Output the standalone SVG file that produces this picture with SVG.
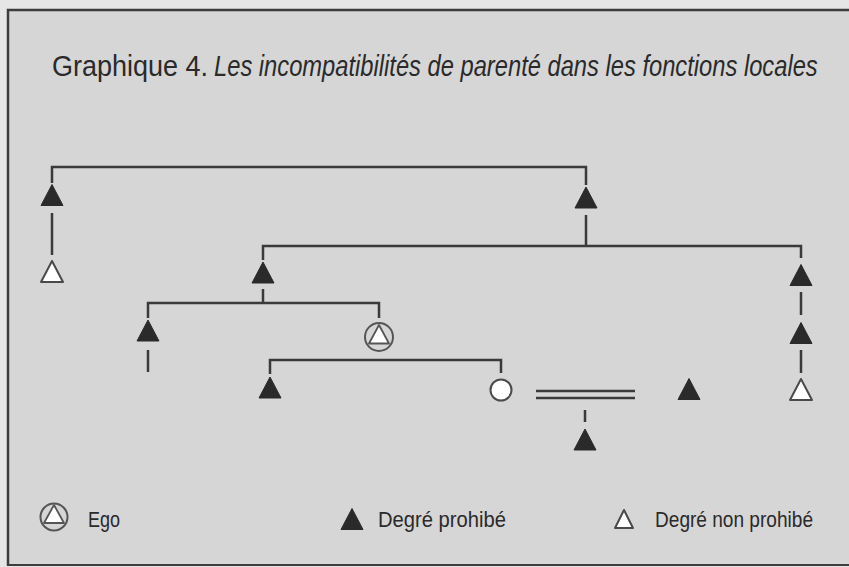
<svg xmlns="http://www.w3.org/2000/svg" width="849" height="567" viewBox="0 0 849 567">
<defs>
<style>
.ln{stroke:#3a3a3a;stroke-width:2.5;fill:none}
.tf{fill:#2a2a2a;stroke:#2a2a2a;stroke-width:1;stroke-linejoin:round}
.tw{fill:#ffffff;stroke:#4a4a4a;stroke-width:2;stroke-linejoin:round}
.eg{fill:none;stroke:#555;stroke-width:2}
.txt{font-family:"Liberation Sans","Arial",sans-serif;fill:#2a2a2a}
</style>
<path id="tri" d="M0,-10.5 L11,10.5 L-11,10.5 Z"/>
</defs>
<rect x="0" y="0" width="849" height="567" fill="#e6e6e6"/>
<rect x="8" y="10" width="841" height="555" fill="#d6d6d6"/>
<path d="M8,566 L8,10 L849,10" stroke="#3c3c3c" stroke-width="2.5" fill="none"/>
<line x1="8" y1="565" x2="849" y2="565" stroke="#3c3c3c" stroke-width="2"/>

<g id="title" class="txt" font-size="30">
<g transform="translate(52,76) scale(0.85,1)">
<text x="0" y="0" textLength="183.5" lengthAdjust="spacingAndGlyphs">Graphique 4.</text>
</g>
<g transform="translate(214,76) scale(0.78,1)">
<text x="0" y="0" font-style="italic" textLength="774" lengthAdjust="spacingAndGlyphs">Les incompatibilités de parenté dans les fonctions locales</text>
</g>
</g>

<g id="connectors" class="ln">
<polyline points="52,183 52,167 586,167 586,185"/>
<line x1="52" y1="213" x2="52" y2="255"/>
<line x1="586" y1="215" x2="586" y2="246"/>
<polyline points="263,260 263,246 801,246 801,258"/>
<line x1="263" y1="289" x2="263" y2="303"/>
<polyline points="148,318 148,303 379,303 379,318"/>
<line x1="148" y1="350" x2="148" y2="372"/>
<line x1="801" y1="292" x2="801" y2="315"/>
<line x1="801" y1="350" x2="801" y2="373"/>
<polyline points="270,374 270,360 501,360 501,373"/>
<line x1="536" y1="391" x2="635" y2="391"/>
<line x1="536" y1="398" x2="635" y2="398"/>
<line x1="585" y1="410" x2="585" y2="422"/>
</g>

<g id="n1"><use href="#tri" class="tf" x="52" y="195"/></g>
<g id="n2"><use href="#tri" class="tw" x="52" y="271.5"/></g>
<g id="n3"><use href="#tri" class="tf" x="586" y="197.5"/></g>
<g id="n4"><use href="#tri" class="tf" x="263" y="272.5"/></g>
<g id="n5"><use href="#tri" class="tf" x="801" y="275"/></g>
<g id="n6"><use href="#tri" class="tf" x="801" y="333"/></g>
<g id="n7"><use href="#tri" class="tw" x="801" y="389.5"/></g>
<g id="n8"><use href="#tri" class="tf" x="148" y="330.5"/></g>
<g id="ego">
<circle cx="379" cy="337" r="14" class="eg"/>
<path d="M379,325 L389,343.5 L369,343.5 Z" fill="#fff" stroke="#555" stroke-width="1.8" stroke-linejoin="round"/>
</g>
<g id="n9"><use href="#tri" class="tf" x="270" y="387.5"/></g>
<g id="n10"><circle cx="501" cy="390" r="10.5" fill="#fff" stroke="#4a4a4a" stroke-width="2"/></g>
<g id="n11"><use href="#tri" class="tf" x="689" y="389"/></g>
<g id="n12"><use href="#tri" class="tf" x="585" y="439.5"/></g>

<g id="legend" class="txt" font-size="22">
<g id="leg-ego">
<circle cx="54" cy="517" r="13.5" class="eg"/>
<path d="M54,505 L64,523 L44,523 Z" fill="#fff" stroke="#555" stroke-width="1.8" stroke-linejoin="round"/>
<text x="88" y="527" textLength="32" lengthAdjust="spacingAndGlyphs">Ego</text>
</g>
<g id="leg-prohibe">
<use href="#tri" class="tf" x="352" y="519"/>
<text x="378" y="527" textLength="128" lengthAdjust="spacingAndGlyphs">Degré prohibé</text>
</g>
<g id="leg-nonprohibe">
<path d="M624,510 L633,528 L615,528 Z" class="tw" stroke-width="1.5"/>
<text x="655" y="527" textLength="158" lengthAdjust="spacingAndGlyphs">Degré non prohibé</text>
</g>
</g>
</svg>
